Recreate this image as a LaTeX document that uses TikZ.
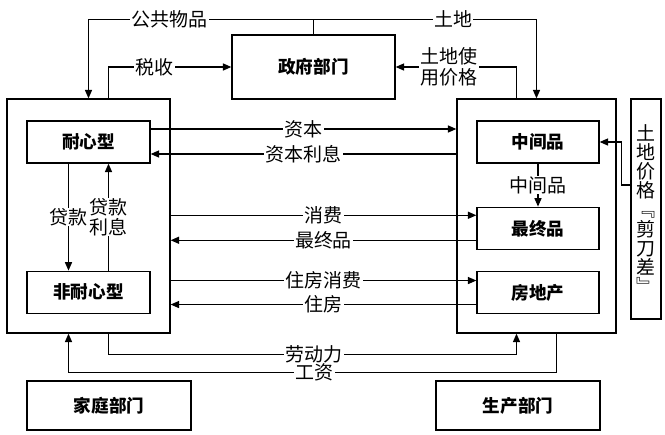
\documentclass[tikz,border=0pt]{standalone}
\usepackage{fontspec}
\newfontfamily\cjk{Noto Sans CJK SC}
\usetikzlibrary{arrows.meta,positioning}

\begin{document}
\begin{tikzpicture}[
    node distance=1cm and 1cm,
    sector/.style={draw, line width=0.9pt, minimum width=4.075cm, minimum height=5.85cm},
    box/.style={draw, line width=0.9pt, minimum width=3.075cm, minimum height=1.05cm, font=\cjk\bfseries\fontsize{12.5}{14}\selectfont},
    dept/.style={box, minimum width=4.1cm, minimum height=1.225cm},
    arrow/.style={-{Triangle[length=6pt,width=5pt]}, line width=0.9pt},
    flow/.style={fill=white, inner xsep=1pt, inner ysep=0pt, align=center, font=\cjk\fontsize{13.5}{14.5}\selectfont}
  ]
  \useasboundingbox (0,0) rectangle (16.625,-10.85);

  % Sectors
  \node[sector] (house) at (2.2125,-5.4) {};
  \node[sector, minimum width=3.975cm] (prod) at (13.4125,-5.4) {};
  \node[box, minimum width=4.075cm, minimum height=1.6cm] (gov) at (7.8375,-1.675) {政府部门};

  % Households
  \node[box] (patient) at (2.2125,-3.55) {耐心型};
  \node[box, below=2.675cm of patient] (impatient) {非耐心型};

  % Producers
  \node[box, minimum width=3.05cm] (inter) at (13.45,-3.55) {中间品};
  \node[box, minimum width=3.05cm, below=1.075cm of inter] (final) {最终品};
  \node[box, minimum width=3.05cm, below=0.525cm of final] (estate) {房地产};

  % Land price
  \node[draw, line width=0.9pt, minimum width=0.75cm, minimum height=5.5cm, inner sep=0pt, align=center,
        font=\cjk\fontsize{13.5}{13.6}\selectfont] (land) at (16.15,-5.225)
        {土\\地\\价\\格\\﹃\\剪\\刀\\差\\﹄};

  % Department labels
  \node[dept] (family) at (2.725,-10.1375) {家庭部门};
  \node[dept] (maker) at (12.95,-10.1375) {生产部门};

  % Government flows
  \draw[arrow] (gov.north) -- ++(0,0.375) -| node[flow, pos=0.32] {公共物品} (house.north);
  \draw[arrow] (gov.north) -- ++(0,0.375) -| node[flow, pos=0.313] {土地} (prod.north);
  \draw[arrow] ([xshift=0.5cm]house.north) |- node[flow, pos=0.688] {税收} (gov.west);
  \draw[arrow] ([xshift=-0.5cm]prod.north) |- node[flow, pos=0.78] {土地使\\用价格} (gov.east);

  % Household <-> producer
  \draw[arrow] ([yshift=0.325cm]patient.east) -- node[flow] {资本} ([yshift=0.325cm]patient.east -| prod.west);
  \draw[arrow] ([yshift=-0.3cm]patient.east -| prod.west) -- node[flow] {资本利息} ([yshift=-0.3cm]patient.east);
  \draw[arrow] ([yshift=0.325cm]final.west -| house.east) -- node[flow] {消费} ([yshift=0.325cm]final.west);
  \draw[arrow] ([yshift=-0.3cm]final.west) -- node[flow] {最终品} ([yshift=-0.3cm]final.west -| house.east);
  \draw[arrow] ([yshift=0.3cm]estate.west -| house.east) -- node[flow] {住房消费} ([yshift=0.3cm]estate.west);
  \draw[arrow] ([yshift=-0.3cm]estate.west) -- node[flow] {住房} ([yshift=-0.3cm]estate.west -| house.east);

  % Inside sectors
  \draw[arrow] (inter) -- node[flow] {中间品} (final);
  \draw[arrow] ([yshift=0.6cm]land.west) -- ++(-0.225,0) |- (inter.east);
  \draw[arrow] ([xshift=-0.5cm]patient.south) -- node[flow] {贷款} ([xshift=-0.5cm]impatient.north);
  \draw[arrow] ([xshift=0.5cm]impatient.north) -- node[flow] {贷款\\利息} ([xshift=0.5cm]patient.south);

  % Labour and wages
  \draw[arrow] ([xshift=0.5cm]house.south) -- ++(0,-0.525) -| node[flow, pos=0.252] {劳动力} ([xshift=-0.5cm]prod.south);
  \draw[arrow] ([xshift=0.5cm]prod.south) -- ++(0,-0.975) -| node[flow, pos=0.248] {工资} ([xshift=-0.5cm]house.south);

\end{tikzpicture}
\end{document}
